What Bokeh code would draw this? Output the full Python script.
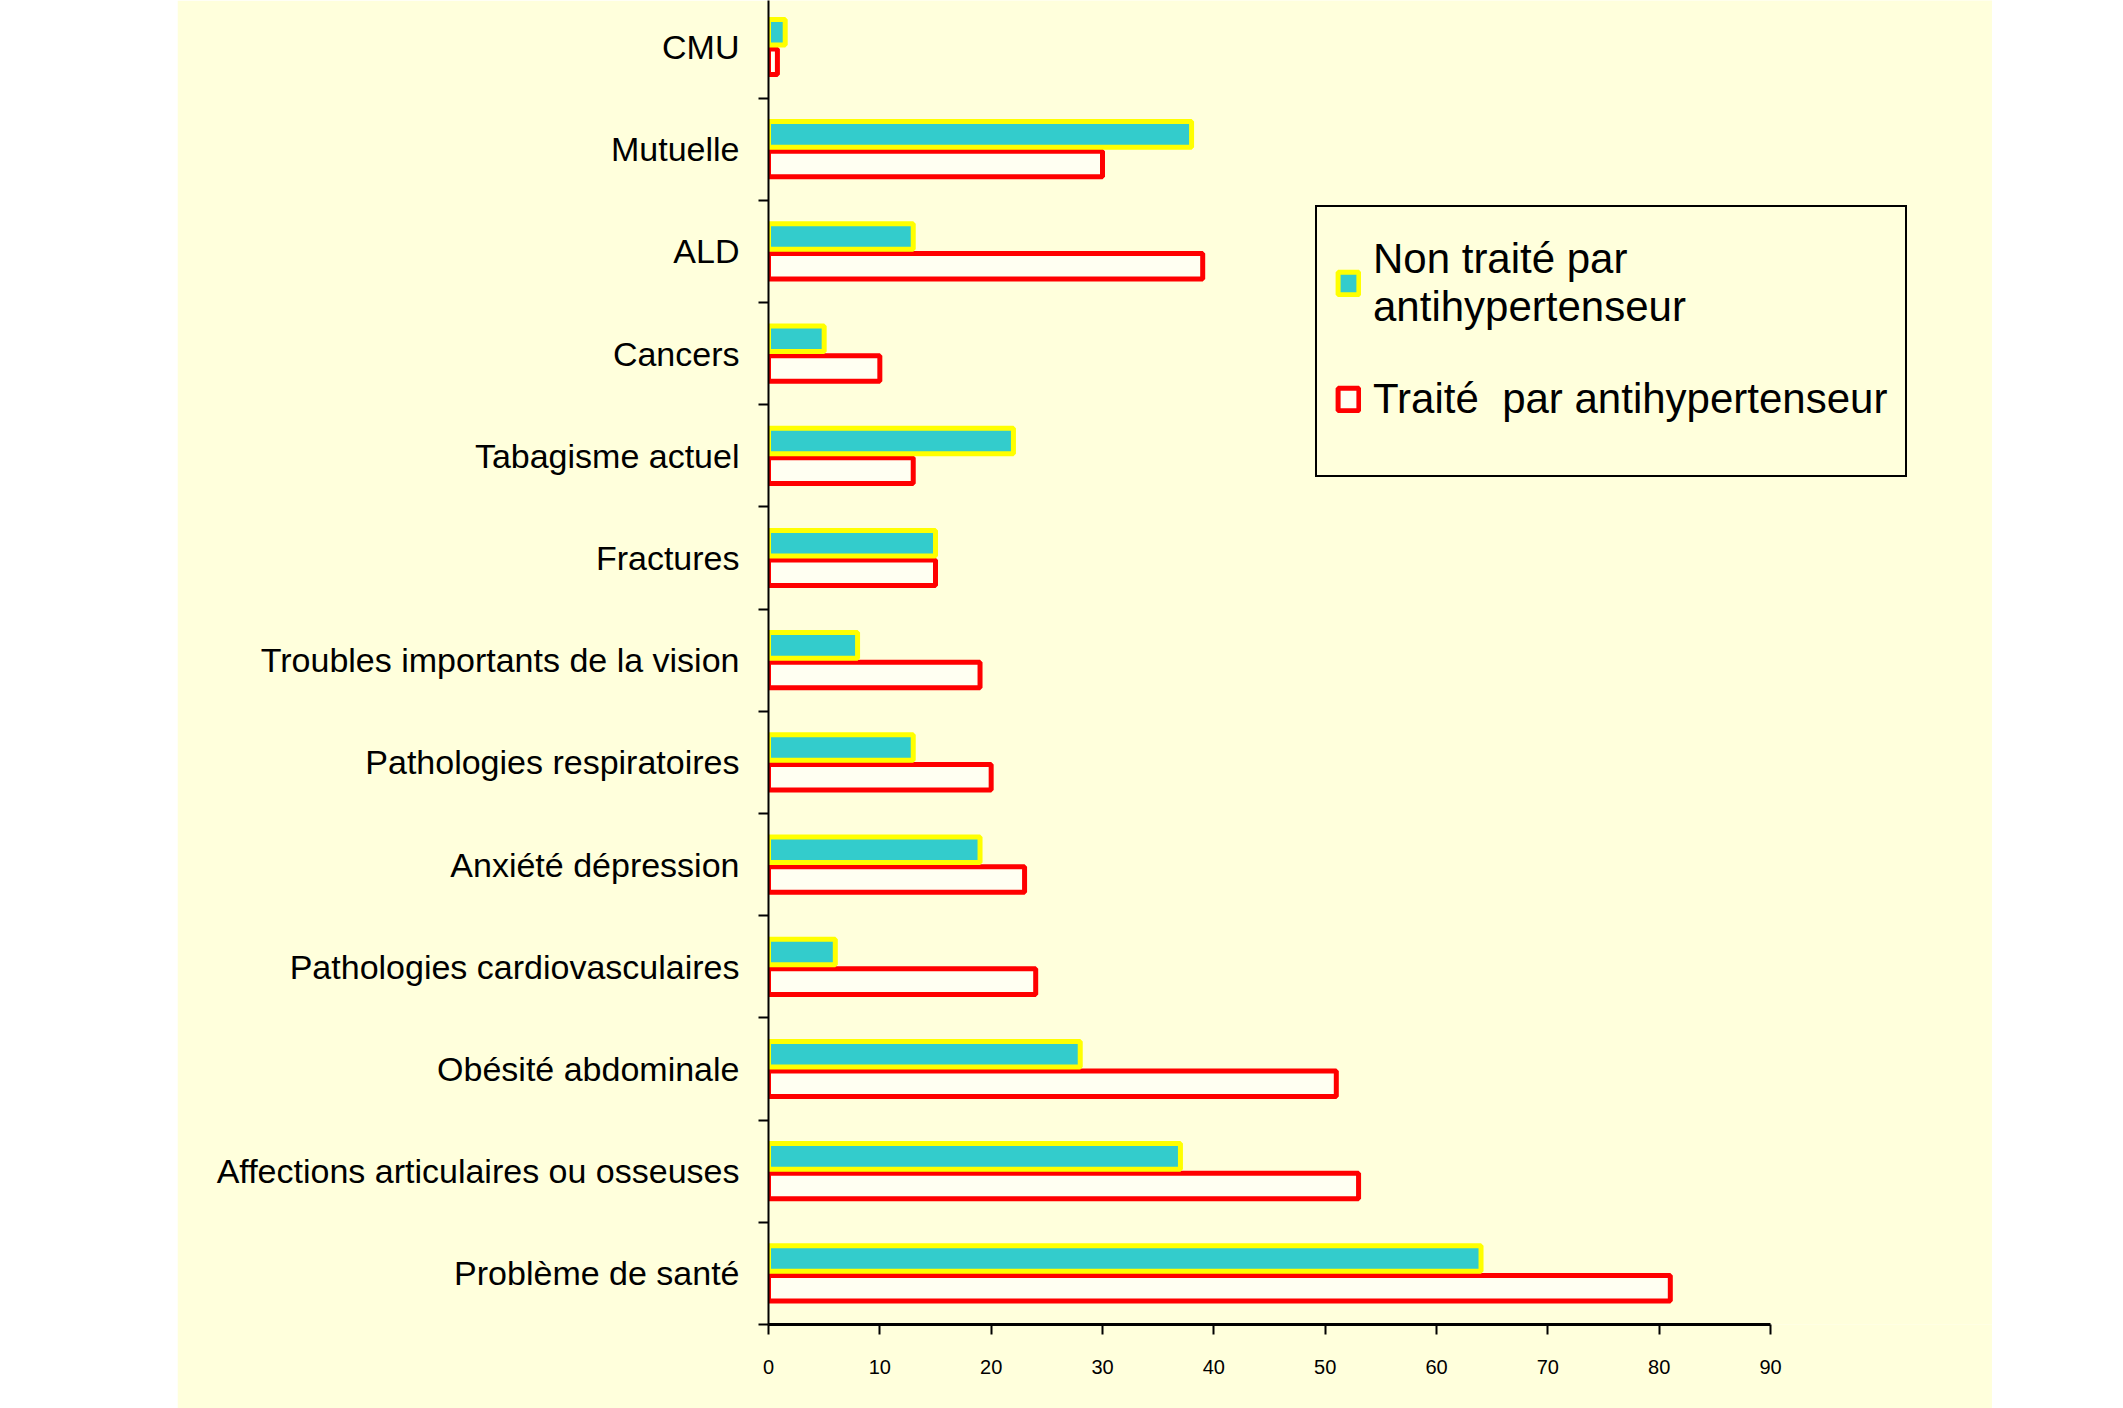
from bokeh.plotting import figure
from bokeh.models import FixedTicker, Legend, LegendItem, Spacer, Range1d, ColumnDataSource
from bokeh.layouts import row
from bokeh.embed import file_html
from bokeh.resources import INLINE

categories = ["CMU", "Mutuelle", "ALD", "Cancers", "Tabagisme actuel", "Fractures",
              "Troubles importants de la vision", "Pathologies respiratoires",
              "Anxiété dépression", "Pathologies cardiovasculaires",
              "Obésité abdominale", "Affections articulaires ou osseuses",
              "Problème de santé"]
non_traite = [1.5, 38, 13, 5, 22, 15, 8, 13, 19, 6, 28, 37, 64]
traite = [0.8, 30, 39, 10, 13, 15, 19, 20, 23, 24, 51, 53, 81]
x_ticks = [0, 10, 20, 30, 40, 50, 60, 70, 80, 90]
label_nt = "Non traité par\nantihypertenseur"
label_t = "Traité  par antihypertenseur"

FONT = "Liberation Sans"
YEL = "#FFFFDC"

n = len(categories)
centers = [n - 1 - i + 0.5 for i in range(n)]
src = ColumnDataSource(dict(
    y_nt=[c + 0.145 for c in centers],
    y_t=[c - 0.145 for c in centers],
    nt=non_traite, t=traite, cat=categories))

p = figure(width=1815, height=1408, x_range=Range1d(0, 109.94), y_range=Range1d(0, 12.955),
           output_backend="svg", toolbar_location=None,
           min_border_left=591, min_border_right=0, min_border_top=0, min_border_bottom=84,
           background_fill_color=YEL, border_fill_color=YEL, outline_line_color=None)

r_t = p.hbar(y="y_t", right="t", left=0, height=0.25, source=src,
             fill_color="#FFFFF2", line_color="#FF0000", line_width=5)
r_nt = p.hbar(y="y_nt", right="nt", left=0, height=0.25, source=src,
              fill_color="#33CCCC", line_color="#FFFF00", line_width=5)

p.grid.visible = False

p.xaxis.ticker = FixedTicker(ticks=x_ticks)
p.xaxis.bounds = (0, 90)
p.xaxis.major_tick_out = 10
p.xaxis.major_tick_in = 0
p.xaxis.axis_line_width = 3
p.xaxis.major_tick_line_width = 2
p.xaxis.major_label_text_font = FONT
p.xaxis.major_label_text_font_size = "20px"
p.xaxis.major_label_text_color = "black"
p.xaxis.major_label_standoff = 25

p.yaxis.ticker = FixedTicker(ticks=centers, minor_ticks=list(range(0, n + 1)))
p.yaxis.major_label_overrides = {c: cat for c, cat in zip(centers, categories)}
p.yaxis.major_tick_out = 0
p.yaxis.major_tick_in = 0
p.yaxis.minor_tick_out = 10
p.yaxis.minor_tick_in = 0
p.yaxis.minor_tick_line_width = 2
p.yaxis.axis_line_width = 2
p.yaxis.major_label_standoff = 19
p.yaxis.major_label_text_font = FONT
p.yaxis.major_label_text_font_size = "34px"
p.yaxis.major_label_text_color = "black"

legend = Legend(items=[LegendItem(label=label_nt, renderers=[r_nt]),
                       LegendItem(label=label_t, renderers=[r_t])],
                location=(547, 847),
                label_text_font=FONT, label_text_font_size="42px",
                label_text_color="black",
                label_text_line_height=1.35,
                glyph_width=26, glyph_height=28, label_standoff=12,
                padding=18, spacing=-8, label_width=500, label_height=116,
                border_line_color="black", border_line_width=2, border_line_alpha=1.0,
                background_fill_color=YEL, background_fill_alpha=1.0)
p.add_layout(legend)

layout = row(Spacer(width=177, height=1408), p)

open("out.html", "w").write(file_html(layout, INLINE))
